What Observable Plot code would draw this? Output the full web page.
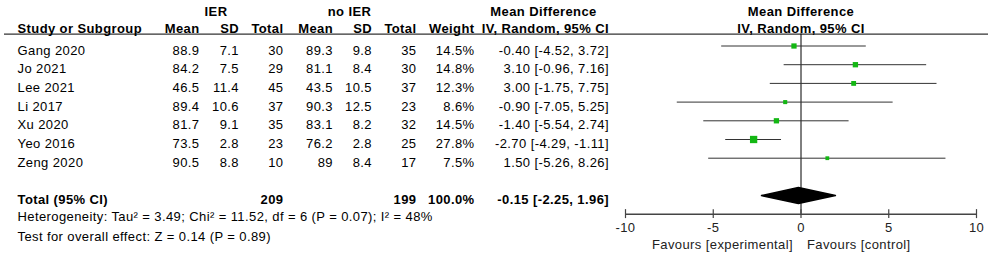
<!DOCTYPE html>
<html><head><meta charset="utf-8">
<script src="https://cdn.jsdelivr.net/npm/d3@7"></script>
<script src="https://cdn.jsdelivr.net/npm/@observablehq/plot@0.6"></script>
<style>html,body{margin:0;padding:0;background:#fff} svg{display:block}</style>
</head><body><div id="chart"></div>
<script>
// ---- data ----
const studies   = ["Gang 2020","Jo 2021","Lee 2021","Li 2017","Xu 2020","Yeo 2016","Zeng 2020"];
const ierMean   = [88.9, 84.2, 46.5, 89.4, 81.7, 73.5, 90.5];
const ierSD     = [7.1, 7.5, 11.4, 10.6, 9.1, 2.8, 8.8];
const ierTotal  = [30, 29, 45, 37, 35, 23, 10];
const ctlMean   = [89.3, 81.1, 43.5, 90.3, 83.1, 76.2, 89];
const ctlSD     = [9.8, 8.4, 10.5, 12.5, 8.2, 2.8, 8.4];
const ctlTotal  = [35, 30, 37, 23, 32, 25, 17];
const weights   = [14.5, 14.8, 12.3, 8.6, 14.5, 27.8, 7.5];
const meanDiff  = [-0.40, 3.10, 3.00, -0.90, -1.40, -2.70, 1.50];
const ciLow     = [-4.52, -0.96, -1.75, -7.05, -5.54, -4.29, -5.26];
const ciHigh    = [3.72, 7.16, 7.75, 5.25, 2.74, -1.11, 8.26];
const totalLabel = "Total (95% CI)";
const totalIER = 209, totalCtl = 199, totalWeight = 100.0;
const pooledMD = -0.15, pooledLow = -2.25, pooledHigh = 1.96;
const xTicks = [-10, -5, 0, 5, 10];
const groupHeaders = ["IER", "no IER", "Mean Difference"];
const columnHeaders = ["Study or Subgroup","Mean","SD","Total","Mean","SD","Total","Weight","IV, Random, 95% CI"];
const plotHeaders = ["Mean Difference", "IV, Random, 95% CI"];
const heterogeneity = "Heterogeneity: Tau\u00B2 = 3.49; Chi\u00B2 = 11.52, df = 6 (P = 0.07); I\u00B2 = 48%";
const overallEffect = "Test for overall effect: Z = 0.14 (P = 0.89)";
const favours = ["Favours [experimental]", "Favours [control]"];

// ---- layout (styles/positions) ----
const ML = 4;                 // margin left
const ROW0 = 45.5, STEP = 18.7;
const TOTAL_ROW = 8, AXIS_ROW = 9;
const HEADER_LINE = -0.64;
const BASE = 8.5;             // baseline offset below row centre
const colX = [17, 199, 238.5, 283, 332.5, 371.5, 416, 474, 608.5];
const FONT = "'Liberation Sans', Arial, Helvetica, sans-serif";
const GREEN = "#13b713";

const fmtW = v => v.toFixed(1) + "%";
const fmtMD = (m, l, h) => `${m.toFixed(2)} [${l.toFixed(2)}, ${h.toFixed(2)}]`;

const rows = studies.map((s, i) => ({
  i, cells: [s, String(ierMean[i]), String(ierSD[i]), String(ierTotal[i]), String(ctlMean[i]),
             String(ctlSD[i]), String(ctlTotal[i]), fmtW(weights[i]), fmtMD(meanDiff[i], ciLow[i], ciHigh[i])],
  md: meanDiff[i], lo: ciLow[i], hi: ciHigh[i], w: weights[i]
}));
const totalCells = [totalLabel, "", "", String(totalIER), "", "", String(totalCtl), fmtW(totalWeight), fmtMD(pooledMD, pooledLow, pooledHigh)];

const dh = 8 / STEP;
const diamond = [
  {x: pooledLow, y: TOTAL_ROW}, {x: pooledMD, y: TOTAL_ROW - dh},
  {x: pooledHigh, y: TOTAL_ROW}, {x: pooledMD, y: TOTAL_ROW + dh}
];

const tableMarks = [];
colX.forEach((cx, c) => {
  const anchor = c === 0 ? "start" : "end";
  tableMarks.push(Plot.text(rows, {
    frameAnchor: "left", y: "i", dx: cx - ML, dy: BASE, lineAnchor: "bottom",
    textAnchor: anchor, text: d => d.cells[c]
  }));
  if (totalCells[c]) tableMarks.push(Plot.text([totalCells[c]], {
    frameAnchor: "left", y: () => TOTAL_ROW, dx: cx - ML, dy: BASE, lineAnchor: "bottom",
    textAnchor: anchor, fontWeight: "bold", text: d => d
  }));
  tableMarks.push(Plot.text([columnHeaders[c]], {
    frameAnchor: "top-left", dx: cx - ML, dy: 32, lineAnchor: "bottom",
    textAnchor: anchor, fontWeight: "bold", text: d => d
  }));
});
const groupX = [215.5, 349, 543];
groupHeaders.forEach((g, k) => tableMarks.push(Plot.text([g], {
  frameAnchor: "top-left", dx: groupX[k] - ML, dy: 15, lineAnchor: "bottom",
  textAnchor: "middle", fontWeight: "bold", text: d => d
})));

const chart = Plot.plot({
  width: 995, height: 259,
  marginLeft: ML, marginRight: 7, marginTop: 0, marginBottom: 0,
  style: {fontFamily: FONT, fontSize: "13px", letterSpacing: "0.4px", background: "#fff", color: "#000"},
  x: {domain: [-10, 10], range: [625, 976], axis: null},
  y: {domain: [0, AXIS_ROW], range: [ROW0, ROW0 + AXIS_ROW * STEP], axis: null},
  r: {type: "sqrt", domain: [0, 27.8], range: [0, 4.12]},
  marks: [
    Plot.ruleY([HEADER_LINE], {stroke: "#333", strokeWidth: 1.3}),
    Plot.ruleX([0], {y1: HEADER_LINE, y2: AXIS_ROW, stroke: "#000", strokeWidth: 1}),
    Plot.ruleY(rows, {y: "i", x1: "lo", x2: "hi", stroke: "#333", strokeWidth: 1}),
    Plot.dot(rows, {x: "md", y: "i", r: "w", symbol: "square", fill: GREEN, stroke: null}),
    Plot.line(diamond, {x: "x", y: "y", fill: "#000", stroke: "#000", curve: "linear-closed"}),
    // axis
    Plot.ruleY([AXIS_ROW], {x1: xTicks[0], x2: xTicks[xTicks.length - 1], stroke: "#444", strokeWidth: 1.5}),
    Plot.ruleX(xTicks, {x: d => d, y1: AXIS_ROW - 0.25, y2: AXIS_ROW + 0.23, stroke: "#444", strokeWidth: 1.2}),
    Plot.text(xTicks, {x: d => d, y: () => AXIS_ROW, dy: 18, lineAnchor: "bottom", text: d => String(d), fill: "#222"}),
    Plot.text([favours[0]], {x: () => 0, y: () => AXIS_ROW, dx: -8, dy: 35, lineAnchor: "bottom", textAnchor: "end", text: d => d, fill: "#222"}),
    Plot.text([favours[1]], {x: () => 0, y: () => AXIS_ROW, dx: 6, dy: 35, lineAnchor: "bottom", textAnchor: "start", text: d => d, fill: "#222"}),
    // plot headers
    Plot.text([plotHeaders[0]], {x: () => 0, frameAnchor: "top", dy: 15, lineAnchor: "bottom", fontWeight: "bold", text: d => d}),
    Plot.text([plotHeaders[1]], {x: () => 0, frameAnchor: "top", dy: 32, lineAnchor: "bottom", fontWeight: "bold", text: d => d}),
    ...tableMarks,
    // footers
    Plot.text([heterogeneity], {frameAnchor: "top-left", dx: 17 - ML, dy: 220.5, lineAnchor: "bottom", textAnchor: "start", text: d => d}),
    Plot.text([overallEffect], {frameAnchor: "top-left", dx: 17 - ML, dy: 240.5, lineAnchor: "bottom", textAnchor: "start", text: d => d})
  ]
});
document.getElementById("chart").appendChild(chart);
</script>
</body></html>
